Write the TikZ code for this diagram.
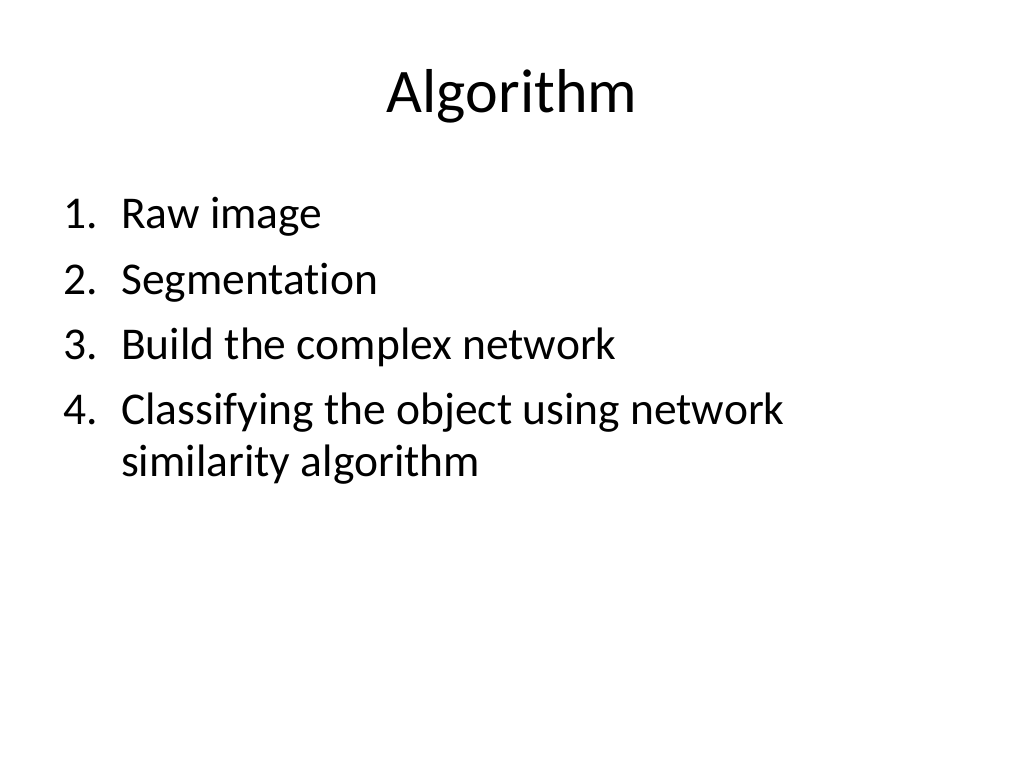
\documentclass[tikz,border=0pt]{standalone}
\usepackage{fontspec}
\setmainfont{Carlito}[Ligatures=NoCommon]
\usetikzlibrary{positioning}
\tikzset {
  % slide heading
  heading/.style = {
    anchor = base,
    inner sep = 0,
    font = \fontsize{62}{74}\selectfont
  },
  % numbered item text
  item/.style = {
    anchor = base west,
    inner sep = 0,
    font = \fontsize{45.5}{52}\selectfont
  },
  % item number
  num/.style = {
    item
  }
}
\begin{document}
\begin{tikzpicture}[x=1pt, y=-1pt]
    \useasboundingbox[fill=white] (0,0) rectangle (1024,768);

    \node[heading] (title) at (512,112) {Algorithm};

    \node[num] (n1) at (63,228) {1.};
    \node[item] (raw) at (121,228) {Raw image};

    \node[num] (n2) at (63,294) {2.};
    \node[item] (seg) at (121,294) {Segmentation};

    \node[num] (n3) at (63,359) {3.};
    \node[item] (build) at (121,359) {Build the complex network};

    \node[num] (n4) at (63,424) {4.};
    \node[item] (classify) at (121,424) {Classifying the object using network};
    \node[item] (classify2) at (121,476) {similarity algorithm};
  \end{tikzpicture}
\end{document}
